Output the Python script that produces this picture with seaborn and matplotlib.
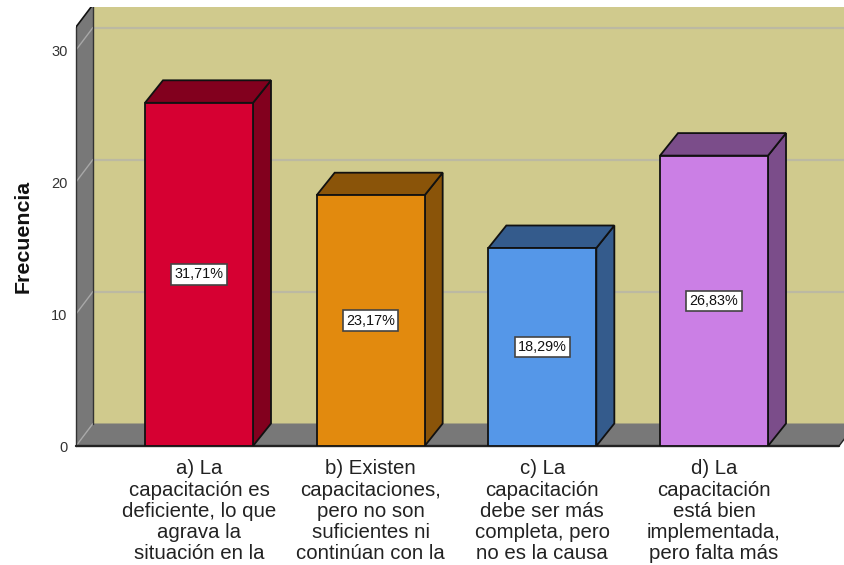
import matplotlib
matplotlib.use("Agg")
import matplotlib.pyplot as plt
import pandas as pd
import seaborn as sns
from matplotlib.patches import Polygon

categorias = [
    "a) La\ncapacitación es\ndeficiente, lo que\nagrava la\nsituación en la",
    "b) Existen\ncapacitaciones,\npero no son\nsuficientes ni\ncontinúan con la",
    "c) La\ncapacitación\ndebe ser más\ncompleta, pero\nno es la causa",
    "d) La\ncapacitación\nestá bien\nimplementada,\npero falta más",
]
frecuencias = [26, 19, 15, 22]
porcentajes = ["31,71%", "23,17%", "18,29%", "26,83%"]
y_ticks = [0, 10, 20, 30]
colores_frente = ["#d60032", "#e28a0e", "#5597e8", "#cb7fe5"]
colores_sombra = ["#82001e", "#8a5409", "#345b8c", "#7b4d8a"]
color_pared = "#d0ca8d"
color_piso = "#787878"
color_rejilla = "#bcb9a2"

sns.set_theme(style="white")
plt.rcParams["font.family"] = ["Liberation Sans", "DejaVu Sans"]

W, H = 844, 565
fig = plt.figure(figsize=(W / 100, H / 100), dpi=100, facecolor="white")
L, R, T, B = 76, 844, 7, 446
ax = fig.add_axes([L / W, 1 - B / H, (R - L) / W, (B - T) / H])
px_x = 171.67
px_y = 13.2
ax.set_facecolor("white")

df = pd.DataFrame({"cat": categorias, "n": frecuencias})
sns.barplot(data=df, x="cat", y="n", hue="cat", palette=colores_frente, dodge=False,
            legend=False, width=108 / px_x, edgecolor="#111111", linewidth=1.3,
            saturation=1, ax=ax, zorder=5)

x0 = -(199 - L) / px_x
x1 = (R - 199) / px_x
ax.set_xlim(x0, x1)
ax.set_ylim(0, (B - T) / px_y)
dx = 17 / px_x
dx_bar = 18 / px_x
dy = 22.5 / px_y
top = (B - 27) / px_y
floor_end = x0 + (839 - L) / px_x

# back wall, left wall, floor
ax.add_patch(Polygon([(x0 + dx, dy), (x1 + 1, dy), (x1 + 1, 60), (x0 + dx, 60)], fc=color_pared, ec="none", zorder=1))
ax.add_patch(Polygon([(x0, 0), (x0 + dx, dy), (x0 + dx, top + dy), (x0, top)], fc=color_piso, ec="none", zorder=1))
ax.add_patch(Polygon([(x0, 0), (x0 + dx, dy), (floor_end + dx, dy), (floor_end, 0)], fc=color_piso, ec="none", zorder=1))

# gridlines on the walls
for v in y_ticks[1:]:
    ax.plot([x0 + dx, x1], [v + dy, v + dy], color=color_rejilla, lw=1.6, zorder=2)
    ax.plot([x0, x0 + dx], [v, v + dy], color="#a8a8a8", lw=1.0, zorder=2)
ax.plot([x0, x0 + dx], [0, dy], color="#a8a8a8", lw=1.0, zorder=2)
ax.plot([x0 + dx, x0 + dx], [dy, top + dy], color="#333333", lw=1.0, zorder=3)
ax.plot([x0, x0], [0, top], color="#333333", lw=1.0, zorder=3, clip_on=False)
ax.plot([x0, x0 + dx], [top, top + dy], color="#111111", lw=1.2, zorder=3)
ax.plot([x0, floor_end], [0, 0], color="#222222", lw=1.7, zorder=3, clip_on=False)
ax.plot([floor_end, floor_end + dx], [0, dy], color="#222222", lw=1.0, zorder=3)

# 3D side and top of each bar, built from the bars seaborn drew
for patch, sombra, etiqueta in zip(ax.patches[:4], colores_sombra, porcentajes):
    xa = patch.get_x()
    xb = xa + patch.get_width()
    h = patch.get_height()
    ax.add_patch(Polygon([(xb, 0), (xb + dx_bar, dy), (xb + dx_bar, h + dy), (xb, h)],
                         fc=sombra, ec="#111111", lw=1.3, zorder=4))
    ax.add_patch(Polygon([(xa, h), (xa + dx_bar, h + dy), (xb + dx_bar, h + dy), (xb, h)],
                         fc=sombra, ec="#111111", lw=1.3, zorder=4))
    ax.text((xa + xb) / 2, h / 2, etiqueta, ha="center", va="center", fontsize=10.4,
            color="#111111", zorder=7,
            bbox=dict(boxstyle="square,pad=0.22", fc="white", ec="#444444", lw=1.2))

sns.despine(ax=ax, left=True, bottom=True, right=True, top=True)
ax.set_yticks(y_ticks)
ax.set_yticklabels([str(v) for v in y_ticks], fontsize=10.5, color="#333333")
ax.tick_params(axis="y", length=0, pad=6)
ax.tick_params(axis="x", length=0, pad=9.5)
ax.set_xticks(range(len(categorias)))
ax.set_xticklabels(categorias, fontsize=14.7, color="#222222", linespacing=1.155, ha="center")
ax.set_xlabel("")
ax.set_ylabel("")
fig.text(23 / W, 1 - 236.5 / H, "Frecuencia", rotation=90, ha="center", va="center",
         fontsize=15.4, fontweight="bold", color="#111111")

fig.savefig("out.png", dpi=100)
